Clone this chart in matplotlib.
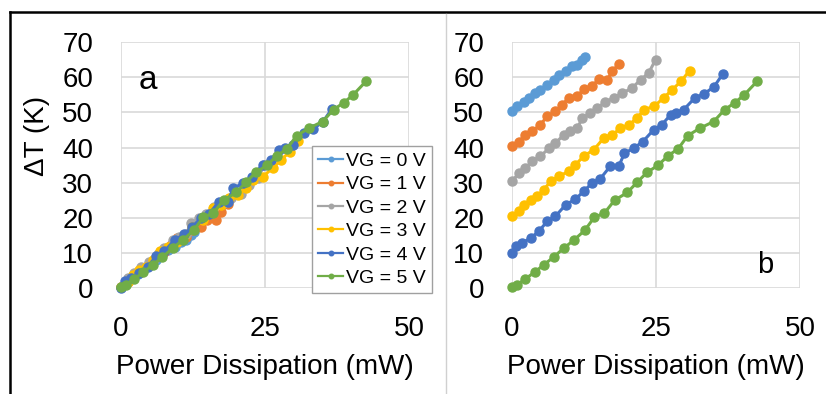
import matplotlib
matplotlib.use('Agg')
from matplotlib import pyplot as plt
from matplotlib.lines import Line2D

plt.rcParams['font.family'] = ['Liberation Sans', 'DejaVu Sans']

# 数据：功率 (mW) 与温升 (K)
labels = ['VG = 0 V', 'VG = 1 V', 'VG = 2 V', 'VG = 3 V', 'VG = 4 V', 'VG = 5 V']
colors = ['#5B9BD5', '#ED7D31', '#A5A5A5', '#FFC000', '#4472C4', '#70AD47']
offsets = [50, 40, 30, 20, 10, 0]  # 右图的纵向偏移

p_vg0 = [0, 0.9, 2.0, 2.9, 4.0, 4.9, 6.1, 7.2, 8.1, 9.3, 10.4, 11.3, 12.2, 12.6]
t_vg0 = [0.3, 1.7, 3.1, 4.1, 5.5, 6.5, 7.9, 9.3, 10.7, 11.7, 13.1, 13.6, 15.0, 15.9]

p_vg1 = [0, 1.2, 2.3, 3.5, 4.9, 6.1, 7.5, 8.7, 9.8, 11.3, 12.4, 13.9, 15.0, 16.5, 17.4, 18.5]
t_vg1 = [0.3, 1.7, 3.6, 4.6, 6.5, 8.9, 10.3, 12.2, 14.1, 14.6, 16.6, 17.4, 19.5, 19.3, 21.7, 23.8]

p_vg2 = [0, 1.2, 2.3, 3.5, 4.9, 6.4, 7.5, 9.0, 10.1, 11.3, 12.2, 13.6, 14.8, 16.2, 17.7, 19.1,
         20.8, 22.3, 23.7, 24.9]
t_vg2 = [0.4, 2.8, 4.2, 6.1, 7.5, 9.8, 11.3, 13.6, 14.6, 15.5, 18.4, 19.8, 21.2, 23.1, 24.1, 25.5,
         26.9, 29.3, 31.2, 35.0]

p_vg3 = [0, 1.2, 2.0, 3.2, 4.3, 5.5, 6.7, 8.1, 9.8, 11.0, 12.4, 14.2, 15.9, 17.4, 18.8, 20.3,
         21.7, 22.9, 24.6, 26.3, 27.8, 29.3, 30.8]
t_vg3 = [0.4, 1.8, 3.7, 5.1, 6.1, 8.0, 10.4, 11.8, 13.2, 15.1, 17.5, 19.4, 22.7, 23.6, 25.5, 26.5,
         28.4, 30.8, 31.7, 34.1, 36.5, 38.8, 41.9]

p_vg4 = [0, 0.75, 1.7, 3.2, 4.6, 6.1, 7.5, 9.3, 11.0, 12.4, 13.9, 15.3, 17.0, 18.5, 19.5, 21.1,
         22.7, 24.6, 26.0, 27.5, 28.4, 29.8, 31.7, 33.3, 35.0, 36.6]
t_vg4 = [0.0, 1.9, 2.8, 4.2, 6.1, 9.0, 10.4, 13.7, 15.3, 17.5, 19.9, 21.1, 24.6, 24.6, 28.4, 29.8,
         31.7, 35.1, 36.5, 39.3, 39.8, 40.8, 44.1, 45.3, 47.2, 51.0]

p_vg5 = [0, 0.87, 2.3, 3.9, 5.5, 7.2, 9.0, 10.7, 12.6, 14.3, 16.0, 17.8, 20.0, 21.7, 23.4, 25.3,
         27.1, 28.8, 30.5, 32.6, 35.0, 36.9, 38.7, 40.3, 42.5]
t_vg5 = [0.3, 0.95, 2.6, 4.5, 6.6, 8.8, 11.4, 13.6, 16.4, 20.2, 21.3, 25.0, 27.2, 30.1, 32.9, 34.9,
         37.7, 39.6, 43.4, 45.5, 47.4, 50.8, 52.8, 55.0, 58.8]

powers = [p_vg0, p_vg1, p_vg2, p_vg3, p_vg4, p_vg5]
temps = [t_vg0, t_vg1, t_vg2, t_vg3, t_vg4, t_vg5]

fig = plt.figure(figsize=(8.26, 3.94), dpi=100)
ax_a = fig.add_axes([0.1465, 0.269, 0.3487, 0.624])
ax_b = fig.add_axes([0.620, 0.269, 0.3487, 0.624])


def style_axes(ax):
    ax.set_xlim(0, 50)
    ax.set_ylim(0, 70)
    ax.set_xticks([0, 25, 50])
    ax.set_yticks(range(0, 71, 10))
    for s in ax.spines.values():
        s.set_visible(False)
    ax.grid(True, color='#D9D9D9', linewidth=1.2)
    ax.set_axisbelow(True)
    ax.tick_params(length=0, labelsize=20, colors='#000000')
    ax.tick_params(axis='y', pad=20)
    ax.tick_params(axis='x', pad=20)
    ax.set_xlabel('Power Dissipation (mW)', fontsize=20, labelpad=9)


for i in range(6):
    ax_a.plot(powers[i], temps[i], color=colors[i], marker='o', markersize=6.5,
              linewidth=2.2, label=labels[i], clip_on=False)
    ax_b.plot(powers[i], [t + offsets[i] for t in temps[i]], color=colors[i], marker='o',
              markersize=6.5, linewidth=2.2, clip_on=False)

style_axes(ax_a)
style_axes(ax_b)

ax_a.set_ylabel('ΔT (K)', fontsize=20)
ax_a.yaxis.set_label_coords(-0.245, 0.62)

ax_a.text(3.0, 59, 'a', fontsize=24, va='center', ha='left')
ax_b.text(42.5, 6.5, 'b', fontsize=21, va='center', ha='left')

leg = ax_a.legend(loc='lower right', bbox_to_anchor=(1.08, -0.02), fontsize=14,
                  frameon=True, fancybox=False, edgecolor='#A0A0A0', framealpha=1,
                  handlelength=1.3, handletextpad=0.15, labelspacing=0.3,
                  borderpad=0.3, borderaxespad=0, markerscale=0.5)
leg.get_frame().set_linewidth(1.0)
for h in leg.get_lines():
    h.set_linewidth(1.6)

# 外框线与分隔线
fig.add_artist(Line2D([0.0121, 1], [0.9695, 0.9695], color='black', linewidth=1.8))
fig.add_artist(Line2D([0.0121, 0.0121], [0, 0.9695], color='black', linewidth=1.8))
fig.add_artist(Line2D([0.540, 0.540], [0, 0.965], color='#D0D0D0', linewidth=1.0))

plt.savefig('out.png', dpi=100)
